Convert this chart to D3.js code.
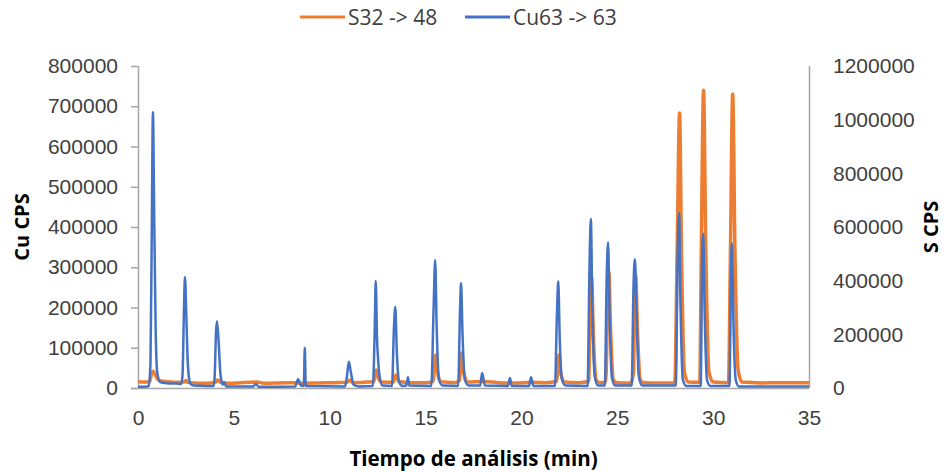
<!DOCTYPE html>
<html>
<head>
<meta charset="utf-8">
<script src="https://cdn.jsdelivr.net/npm/d3@7"></script>
<style>
  body { margin: 0; background: #fff; }
  svg { font-family: "Open Sans", "Liberation Sans", sans-serif; }
</style>
</head>
<body>
<div id="chart"></div>
<script>
// Cu63 -> 63 (left axis)
var cuTime = [0, 0.5, 0.55, 0.65, 0.72, 0.78, 0.84, 0.92, 1.0, 1.15, 1.5, 2.0, 2.25,
  2.32, 2.4, 2.45, 2.52, 2.6, 2.72, 2.9, 3.5, 3.95,
  4.0, 4.07, 4.12, 4.2, 4.3, 4.42, 4.5, 4.6, 6.0, 6.15, 6.3,
  8.2, 8.35, 8.5, 8.65, 8.7, 8.75, 10.8, 10.9, 11.0, 11.1, 11.25, 11.5,
  12.25, 12.35, 12.4, 12.47, 12.52, 12.6, 12.75, 13.25, 13.35, 13.42, 13.5, 13.62, 13.8,
  14.0, 14.08, 14.15, 15.3, 15.42, 15.5, 15.58, 15.7, 15.9,
  16.7, 16.8, 16.85, 16.93, 17.05, 17.25, 17.85, 17.95, 18.1,
  19.3, 19.4, 19.5, 20.4, 20.5, 20.62,
  21.75, 21.85, 21.92, 22.0, 22.12, 22.3,
  23.45, 23.55, 23.62, 23.7, 23.82, 24.0,
  24.35, 24.45, 24.52, 24.6, 24.72, 24.9,
  25.75, 25.85, 25.92, 26.0, 26.12, 26.3,
  28.05, 28.15, 28.22, 28.3, 28.42, 28.6,
  29.35, 29.42, 29.48, 29.56, 29.68, 29.85,
  30.85, 30.93, 30.98, 31.06, 31.18, 31.35, 35];
var cuCps = [3000, 4000, 5000, 60000, 400000, 686000, 450000, 150000, 40000, 15000, 12000, 11000, 10000,
  30000, 200000, 276000, 180000, 60000, 12000, 6000, 5000, 5000,
  30000, 140000, 166000, 120000, 35000, 8000, 14000, 4000, 4000, 10000, 3000,
  4000, 22000, 6000, 5000, 100000, 5000, 4000, 30000, 65000, 40000, 8000, 4000,
  5000, 150000, 266000, 120000, 74000, 30000, 6000, 5000, 150000, 201000, 90000, 15000, 5000,
  6000, 27000, 6000, 5000, 200000, 318000, 150000, 20000, 6000,
  5000, 200000, 261000, 130000, 20000, 6000, 6000, 37000, 6000,
  5000, 25000, 5000, 5000, 27000, 5000,
  5000, 180000, 265000, 120000, 20000, 6000,
  5000, 300000, 420000, 200000, 30000, 6000,
  6000, 280000, 362000, 180000, 25000, 6000,
  6000, 260000, 320000, 200000, 30000, 6000,
  6000, 330000, 435000, 200000, 20000, 5000,
  5000, 300000, 383000, 180000, 20000, 5000,
  5000, 280000, 360000, 160000, 20000, 4000, 4000];

// S32 -> 48 (right axis)
var sTime = [0, 0.3, 0.6, 0.68, 0.78, 0.9, 1.0, 1.2, 1.6, 2.0, 2.4, 2.5, 2.6, 3.2, 3.8,
  4.05, 4.15, 4.3, 4.6, 5.2, 5.8, 6.2, 6.6, 7.4, 8.0, 8.7, 9.4, 10.2, 10.9, 11.05, 11.2,
  12.0, 12.3, 12.42, 12.55, 12.7, 13.3, 13.45, 13.6, 14.2, 15.0,
  15.4, 15.52, 15.62, 15.8, 16.5, 16.78, 16.88, 16.98, 17.2, 18.0, 18.8, 19.6, 20.5, 21.3,
  21.85, 21.95, 22.05, 22.25, 23.0, 23.5, 23.6, 23.66, 23.75, 23.9, 24.1,
  24.4, 24.5, 24.56, 24.65, 24.8, 25.0, 25.7, 25.85, 25.9, 25.96, 26.05, 26.2, 26.4,
  27.2, 28.0, 28.12, 28.25, 28.35, 28.5, 28.7, 29.3, 29.38, 29.5, 29.62, 29.78, 30.0,
  30.8, 30.9, 31.02, 31.14, 31.3, 31.5, 32.5, 33.5, 35];
var sCps = [24000, 22000, 23000, 45000, 62000, 50000, 35000, 26000, 23000, 21000, 22000, 28000, 21000, 18000, 19000,
  22000, 30000, 22000, 18000, 19000, 21000, 22000, 18000, 19000, 20000, 18000, 19000, 20000, 21000, 30000, 20000,
  22000, 24000, 67000, 35000, 22000, 21000, 48000, 24000, 20000, 20000,
  25000, 123000, 60000, 23000, 20000, 30000, 130000, 60000, 22000, 24000, 20000, 19000, 21000, 20000,
  25000, 123000, 55000, 22000, 20000, 24000, 300000, 414000, 200000, 30000, 20000,
  24000, 330000, 432000, 220000, 30000, 20000, 19000, 60000, 330000, 421000, 220000, 30000, 20000,
  19000, 20000, 500000, 1025000, 500000, 60000, 22000, 21000, 500000, 1110000, 500000, 60000, 22000,
  20000, 500000, 1096000, 500000, 70000, 22000, 19000, 20000, 20000];

var xTicks = [0, 5, 10, 15, 20, 25, 30, 35];
var cuTicks = [0, 100000, 200000, 300000, 400000, 500000, 600000, 700000, 800000];
var sTicks = [0, 200000, 400000, 600000, 800000, 1000000, 1200000];

var svgWidth = 947, svgHeight = 472;
var margin = { top: 66, right: 138, bottom: 84, left: 138 };
var width = svgWidth - margin.left - margin.right;
var height = svgHeight - margin.top - margin.bottom;

var svg = d3.select("#chart").append("svg")
  .attr("width", svgWidth)
  .attr("height", svgHeight);

var g = svg.append("g")
  .attr("transform", `translate(${margin.left}, ${margin.top})`);

var x = d3.scaleLinear().domain([0, 35]).range([0, width]);
var yCu = d3.scaleLinear().domain([0, 800000]).range([height, 0]);
var yS = d3.scaleLinear().domain([0, 1200000]).range([height, 0]);

var axisColor = "#a6a6a6", labelColor = "#404040";
var fmt = d3.format("d");

// axes
var bottom = g.append("g")
  .attr("transform", `translate(0, ${height})`)
  .call(d3.axisBottom(x).tickValues(xTicks).tickSize(0).tickPadding(22));
var left = g.append("g")
  .call(d3.axisLeft(yCu).tickValues(cuTicks).tickFormat(fmt).tickSize(7).tickPadding(13));
var right = g.append("g")
  .attr("transform", `translate(${width}, 0)`)
  .call(d3.axisRight(yS).tickValues(sTicks).tickFormat(fmt).tickSize(0).tickPadding(24));

[bottom, left, right].forEach(function(a) {
  a.selectAll("path.domain").attr("stroke", axisColor).attr("stroke-width", 1.5);
  a.selectAll(".tick line").attr("stroke", axisColor).attr("stroke-width", 1.5);
  a.selectAll("text").attr("fill", labelColor).style("font-size", "21px");
});
bottom.select("path.domain").attr("d", `M-7,0.5H${width}`);
left.select("path.domain").attr("d", `M0.5,0V${height}`);
right.select("path.domain").attr("d", `M0.5,0V${height}`);

// lines
var sData = sTime.map((t, i) => [t, sCps[i]]);
var cuData = cuTime.map((t, i) => [t, cuCps[i]]);

g.append("path")
  .datum(sData)
  .attr("fill", "none")
  .attr("stroke", "#ed7d31")
  .attr("stroke-width", 3.5)
  .attr("stroke-linejoin", "round")
  .attr("d", d3.line().x(d => x(d[0])).y(d => yS(d[1])).curve(d3.curveMonotoneX));

g.append("path")
  .datum(cuData)
  .attr("fill", "none")
  .attr("stroke", "#4472c4")
  .attr("stroke-width", 2.5)
  .attr("stroke-linejoin", "round")
  .attr("d", d3.line().x(d => x(d[0])).y(d => yCu(d[1])).curve(d3.curveMonotoneX));

// axis titles
svg.append("text")
  .attr("transform", `translate(29, ${margin.top + height / 2}) rotate(-90)`)
  .attr("text-anchor", "middle")
  .style("font-size", "20px").style("font-weight", "bold")
  .text("Cu CPS");

svg.append("text")
  .attr("transform", `translate(938, ${margin.top + height / 2}) rotate(-90)`)
  .attr("text-anchor", "middle")
  .style("font-size", "20px").style("font-weight", "bold")
  .text("S CPS");

svg.append("text")
  .attr("x", margin.left + width / 2)
  .attr("y", 466)
  .attr("text-anchor", "middle")
  .style("font-size", "20.5px").style("font-weight", "bold")
  .text("Tiempo de análisis (min)");

// legend
var legendItems = [
  { name: "S32 -> 48", color: "#ed7d31", x: 300 },
  { name: "Cu63 -> 63", color: "#4472c4", x: 465 }
];
legendItems.forEach(function(d) {
  svg.append("line")
    .attr("x1", d.x).attr("x2", d.x + 45)
    .attr("y1", 17).attr("y2", 17)
    .attr("stroke", d.color).attr("stroke-width", 3);
  svg.append("text")
    .attr("x", d.x + 48).attr("y", 25)
    .attr("fill", labelColor)
    .style("font-size", "21px")
    .text(d.name);
});
</script>
</body>
</html>
